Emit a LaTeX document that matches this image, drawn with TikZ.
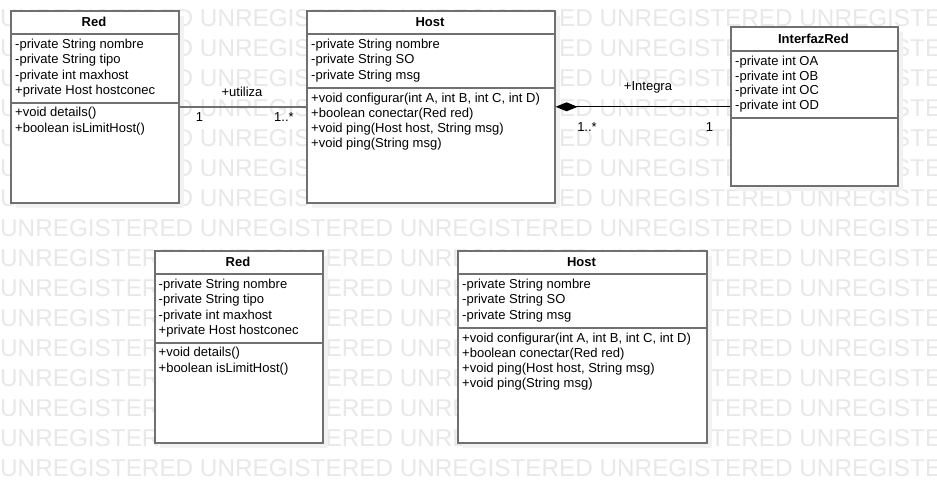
\documentclass[tikz,border=0pt]{standalone}
\usepackage{fontspec}
\setmainfont{Liberation Sans}
\usetikzlibrary{arrows.meta,shadows}
\definecolor{bcol}{RGB}{112,112,112}
\definecolor{wmcol}{RGB}{232,232,232}
\definecolor{shcol}{RGB}{242,242,242}
\tikzset{
 cls/.style={draw=bcol,line width=1.6pt,fill=white,anchor=north west,inner sep=0pt,rectangle,
   drop shadow={shadow xshift=5pt,shadow yshift=-5pt,fill=shcol,opacity=1}},
 divline/.style={draw=bcol,line width=1.6pt},
 txt/.style={anchor=west,inner sep=0pt,text height=9.5pt,text depth=2.7pt,font=\fontsize{13}{15}\selectfont},
 hdr/.style={inner sep=0pt,font=\fontsize{13}{15}\selectfont\bfseries},
 lbl/.style={inner sep=0pt,font=\fontsize{13}{15}\selectfont},
 wm/.style={anchor=west,inner sep=0pt,text=wmcol,font=\fontsize{24.3}{26}\selectfont},
 conngray/.style={draw=bcol,line width=1.5pt},
 connblack/.style={draw=black,line width=1.2pt},
}
\begin{document}
\begin{tikzpicture}[x=1pt,y=-1pt]
\fill[white] (0,0) rectangle (937,482);
\useasboundingbox (0,0) rectangle (937,482);
% watermark
\foreach \k in {0,...,15} {
  \node[wm] (wm\k) at (0,{18+30*\k}) {UNREGISTERED UNREGISTERED UNREGISTERED UNREGISTERED UNREGISTERED};
}
% ---- top Red
\node[cls,minimum width=168pt,minimum height=192pt] (red) at (10,10) {};
\draw[divline] ([yshift=-24pt]red.north west) -- ([yshift=-24pt]red.north east);
\draw[divline] ([yshift=-93pt]red.north west) -- ([yshift=-93pt]red.north east);
\node[hdr] (redh) at (94,22) {Red};
\node[txt] (reda1) at (15,45) {-private String nombre};
\node[txt] (reda2) at (15,60.3) {-private String tipo};
\node[txt] (reda3) at (15,75.6) {-private int maxhost};
\node[txt] (reda4) at (15,90.9) {+private Host hostconec};
\node[txt] (redm1) at (15,113.5) {+void details()};
\node[txt] (redm2) at (15,128.6) {+boolean isLimitHost()};
% ---- top Host
\node[cls,minimum width=248pt,minimum height=192pt] (host) at (306,10) {};
\draw[divline] ([yshift=-24pt]host.north west) -- ([yshift=-24pt]host.north east);
\draw[divline] ([yshift=-78pt]host.north west) -- ([yshift=-78pt]host.north east);
\node[hdr] (hosth) at (430,22) {Host};
\node[txt] (hosta1) at (311,45) {-private String nombre};
\node[txt] (hosta2) at (311,60.4) {-private String SO};
\node[txt] (hosta3) at (311,75.8) {-private String msg};
\node[txt] (hostm1) at (311,99) {+void configurar(int A, int B, int C, int D)};
\node[txt] (hostm2) at (311,114) {+boolean conectar(Red red)};
\node[txt] (hostm3) at (311,129) {+void ping(Host host, String msg)};
\node[txt] (hostm4) at (311,144) {+void ping(String msg)};
% ---- InterfazRed
\node[cls,minimum width=167pt,minimum height=159pt] (ifr) at (730,26) {};
\draw[divline] ([yshift=-25pt]ifr.north west) -- ([yshift=-25pt]ifr.north east);
\draw[divline] ([yshift=-92pt]ifr.north west) -- ([yshift=-92pt]ifr.north east);
\node[hdr] (ifrh) at (813.5,38.5) {InterfazRed};
\node[txt] (ifra1) at (735,61.7) {-private int OA};
\node[txt] (ifra2) at (735,76.6) {-private int OB};
\node[txt] (ifra3) at (735,91.5) {-private int OC};
\node[txt] (ifra4) at (735,106.5) {-private int OD};
% ---- bottom Red
\node[cls,minimum width=168pt,minimum height=192pt] (redb) at (154,250) {};
\draw[divline] ([yshift=-24pt]redb.north west) -- ([yshift=-24pt]redb.north east);
\draw[divline] ([yshift=-93pt]redb.north west) -- ([yshift=-93pt]redb.north east);
\node[hdr] (redbh) at (238,262) {Red};
\node[txt] (redba1) at (158.5,285) {-private String nombre};
\node[txt] (redba2) at (158.5,300.3) {-private String tipo};
\node[txt] (redba3) at (158.5,315.6) {-private int maxhost};
\node[txt] (redba4) at (158.5,330.9) {+private Host hostconec};
\node[txt] (redbm1) at (158.5,353.5) {+void details()};
\node[txt] (redbm2) at (158.5,368.6) {+boolean isLimitHost()};
% ---- bottom Host
\node[cls,minimum width=249pt,minimum height=192pt] (hostb) at (457,250) {};
\draw[divline] ([yshift=-24pt]hostb.north west) -- ([yshift=-24pt]hostb.north east);
\draw[divline] ([yshift=-78pt]hostb.north west) -- ([yshift=-78pt]hostb.north east);
\node[hdr] (hostbh) at (581.5,262) {Host};
\node[txt] (hostba1) at (462,285) {-private String nombre};
\node[txt] (hostba2) at (462,300.4) {-private String SO};
\node[txt] (hostba3) at (462,315.8) {-private String msg};
\node[txt] (hostbm1) at (462,339) {+void configurar(int A, int B, int C, int D)};
\node[txt] (hostbm2) at (462,354) {+boolean conectar(Red red)};
\node[txt] (hostbm3) at (462,369) {+void ping(Host host, String msg)};
\node[txt] (hostbm4) at (462,384) {+void ping(String msg)};
% ---- connectors
\draw[conngray] (red.east) -- (host.west);
\node[lbl] (utiliza) at (242,91.5) {+utiliza};
\node[lbl] (m1a) at (199.5,117.3) {1};
\node[lbl] (m1b) at (284,117.3) {1..*};
\draw[connblack,{Diamond[length=22pt,width=9pt]}-] (host.east) -- (host.east -| ifr.west);
\node[lbl] (integra) at (648,87.5) {+Integra};
\node[lbl] (m2a) at (587,126.7) {1..*};
\node[lbl] (m2b) at (709.5,127) {1};
\end{tikzpicture}
\end{document}
